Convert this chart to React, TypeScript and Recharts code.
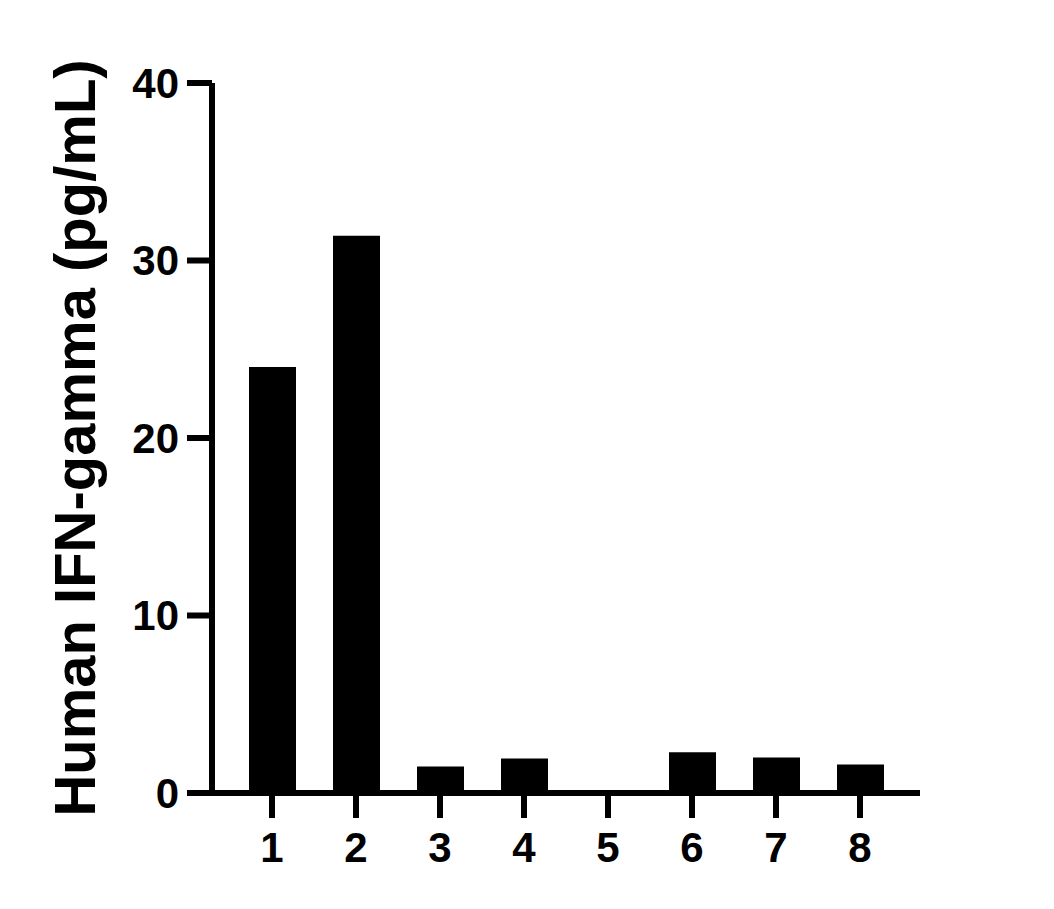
import { BarChart, Bar, XAxis, YAxis, Label } from "recharts";

const categories = ["1", "2", "3", "4", "5", "6", "7", "8"];
const ifnGamma = [24, 31.4, 1.5, 1.95, 0, 2.3, 2.0, 1.6];
const yTicks = [0, 10, 20, 30, 40];
const yTitle = "Human IFN-gamma (pg/mL)";

const data = categories.map((name, i) => ({ name, value: ifnGamma[i] }));

const FONT = "'Liberation Sans', Arial, sans-serif";

const tickStyle = {
  fill: "#000",
  fontSize: 42,
  fontWeight: 700,
  fontFamily: FONT,
};

const lineStyle = { stroke: "#000", strokeWidth: 6 };

const YTitle = ({ viewBox }: any) => {
  const x = viewBox.x + 95;
  const y = viewBox.y + viewBox.height / 2;
  return (
    <text
      x={x}
      y={y}
      transform={`rotate(-90, ${x}, ${y})`}
      textAnchor="middle"
      fill="#000"
      fontSize={58}
      fontWeight={700}
      fontFamily={FONT}
    >
      {yTitle}
    </text>
  );
};

export default function App() {
  return (
    <div style={{ position: "absolute", left: 0, top: 0, background: "#fff" }}>
      <BarChart
        width={1054}
        height={909}
        data={data}
        margin={{ top: 83, right: 134, bottom: 0, left: 0 }}
      >
        <XAxis
          dataKey="name"
          padding={{ left: 18, right: 18 }}
          stroke="#000"
          strokeWidth={6}
          axisLine={lineStyle}
          tickLine={lineStyle}
          tickSize={25}
          tickMargin={14}
          tick={tickStyle}
          interval={0}
          height={116}
        />
        <YAxis
          width={212}
          domain={[0, 40]}
          ticks={yTicks}
          interval={0}
          stroke="#000"
          strokeWidth={6}
          axisLine={lineStyle}
          tickLine={lineStyle}
          tickSize={25}
          tickMargin={8}
          tick={tickStyle}
        >
          <Label content={<YTitle />} />
        </YAxis>
        <Bar
          dataKey="value"
          fill="#000"
          barSize={47}
          isAnimationActive={false}
        />
      </BarChart>
    </div>
  );
}
